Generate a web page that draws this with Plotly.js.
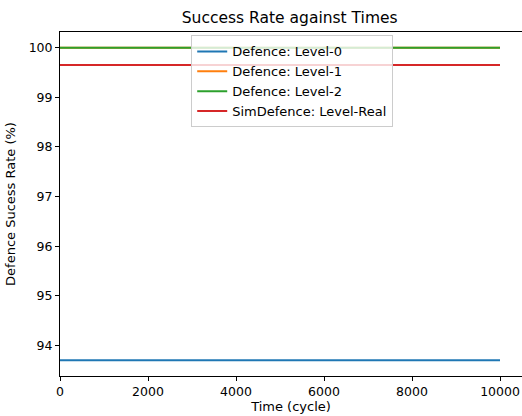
<!DOCTYPE html>
<html>
<head>
<meta charset="utf-8">
<script src="https://cdn.plot.ly/plotly-3.0.1.min.js"></script>
<style>html,body{margin:0;padding:0;background:#fff;}#chart{width:522px;height:416px;}</style>
</head>
<body>
<div id="chart"></div>
<script>
const times = [0, 1000, 2000, 3000, 4000, 5000, 6000, 7000, 8000, 9000, 10000];
const level0 = [93.7, 93.7, 93.7, 93.7, 93.7, 93.7, 93.7, 93.7, 93.7, 93.7, 93.7];
const level1 = [100, 100, 100, 100, 100, 100, 100, 100, 100, 100, 100];
const level2 = [100, 100, 100, 100, 100, 100, 100, 100, 100, 100, 100];
const levelReal = [99.65, 99.65, 99.65, 99.65, 99.65, 99.65, 99.65, 99.65, 99.65, 99.65, 99.65];
const seriesNames = ["Defence: Level-0", "Defence: Level-1", "Defence: Level-2", "SimDefence: Level-Real"];
const xTicks = [0, 2000, 4000, 6000, 8000, 10000];
const yTicks = [94, 95, 96, 97, 98, 99, 100];

const colors = ["#1f77b4", "#ff7f0e", "#2ca02c", "#d62728"];
const data = [level0, level1, level2, levelReal].map((ys, i) => ({
  x: times, y: ys, type: "scatter", mode: "lines", name: seriesNames[i],
  line: {color: colors[i], width: 2}
}));

const axisCommon = {
  showgrid: false, zeroline: false, showline: true, linecolor: "#000", linewidth: 1,
  mirror: true, ticks: "outside", ticklen: 4, tickcolor: "#000", tickwidth: 1,
  tickfont: {family: "DejaVu Sans", size: 12.5, color: "#000"}
};

const layout = {
  width: 522, height: 416,
  margin: {l: 60, r: 0, t: 32, b: 40},
  paper_bgcolor: "#fff", plot_bgcolor: "#fff",
  font: {family: "DejaVu Sans", color: "#000"},
  title: {text: "Success Rate against Times", font: {size: 15.5, family: "DejaVu Sans", color: "#000"}, x: 0.555, xanchor: "center", y: 0.957, yanchor: "middle"},
  xaxis: Object.assign({}, axisCommon, {
    range: [0, 10500], tickvals: xTicks, ticktext: xTicks.map(String),
    title: {text: "Time (cycle)", font: {size: 13, family: "DejaVu Sans", color: "#000"}, standoff: 3}
  }),
  yaxis: Object.assign({}, axisCommon, {
    range: [93.385, 100.315], tickvals: yTicks, ticktext: yTicks.map(String),
    title: {text: "Defence Sucess Rate (%)", font: {size: 13, family: "DejaVu Sans", color: "#000"}, standoff: 10}
  }),
  showlegend: true,
  legend: {
    x: 0.284, y: 0.99, xanchor: "left", yanchor: "top",
    bgcolor: "rgba(255,255,255,0.8)", bordercolor: "#cccccc", borderwidth: 1,
    font: {size: 13, family: "DejaVu Sans", color: "#000"},
    tracegroupgap: 0, itemwidth: 30
  }
};

Plotly.newPlot("chart", data, layout, {displayModeBar: false, staticPlot: true});
</script>
</body>
</html>
